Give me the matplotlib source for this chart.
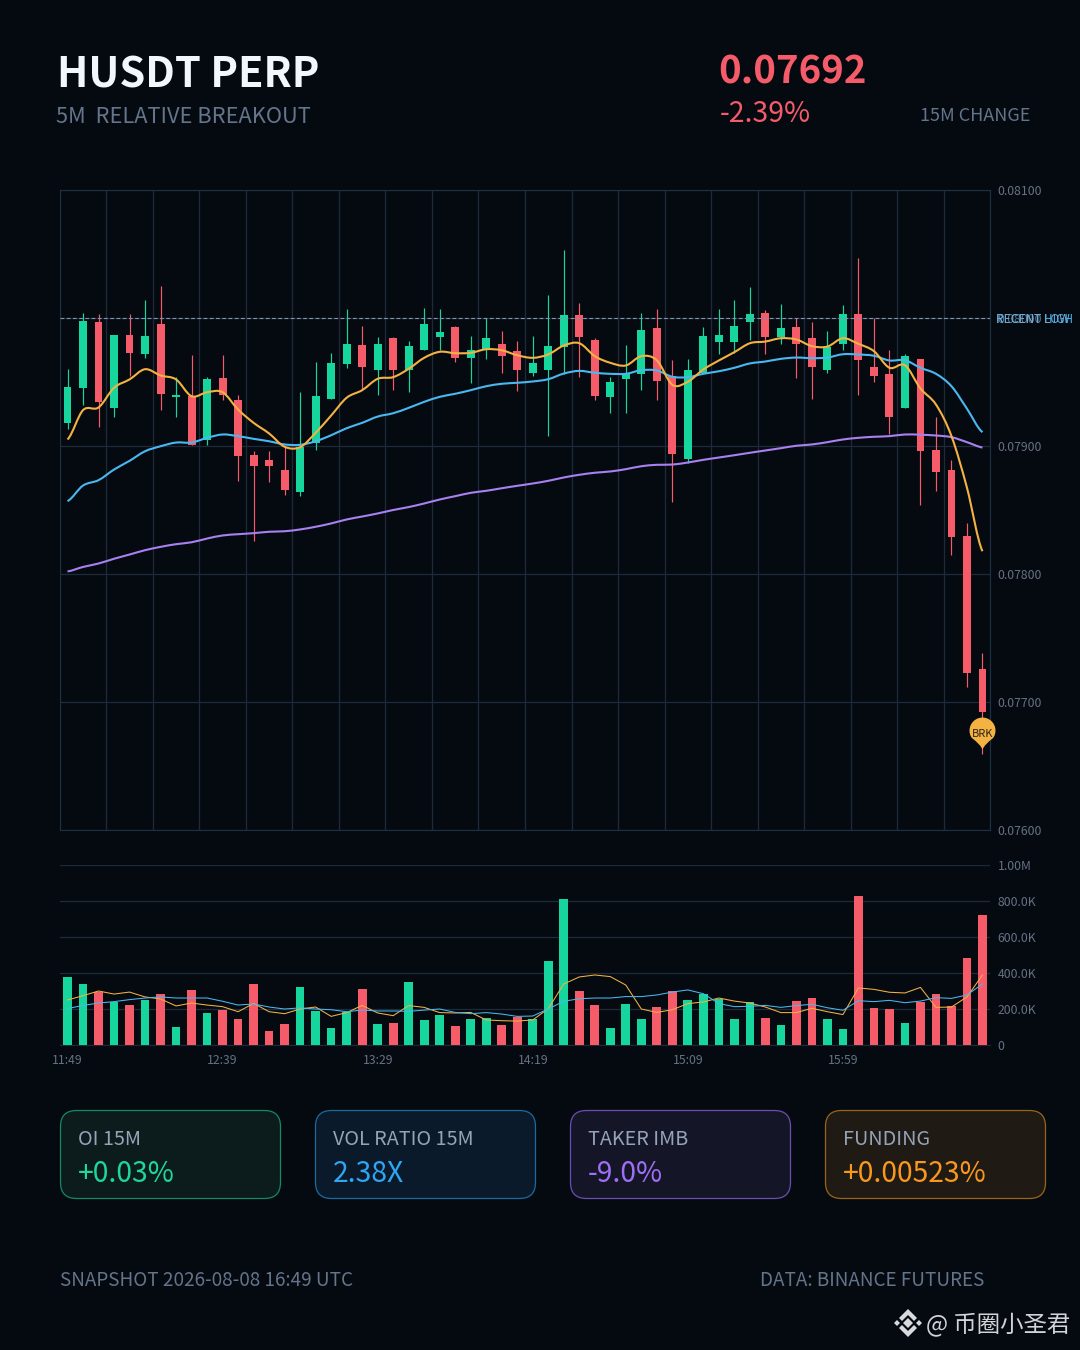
"""Rebuild of the HUSDT 5m breakout card: candles, moving averages, volume, stat cards."""

import matplotlib
matplotlib.use("Agg")
import matplotlib.pyplot as plt
import numpy as np
from matplotlib.patches import FancyBboxPatch, PathPatch, Polygon
from matplotlib.path import Path
from matplotlib.transforms import Affine2D

plt.rcParams["font.family"] = ["Noto Sans CJK SC", "DejaVu Sans"]

W, H = 1080, 1350

# prices are listed in units of 0.00001
OPEN = [7918, 7945, 7997, 7930, 7987, 7972, 7995, 7938, 7939, 7905,
        7953, 7936, 7893, 7889, 7881, 7864, 7902, 7937, 7964, 7979,
        7959, 7984, 7959, 7975, 7985, 7993, 7969, 7975, 7980, 7974,
        7957, 7959, 7977, 8002, 7983, 7938, 7952, 7956, 7992, 7955,
        7890, 7957, 7981, 7981, 7997, 8004, 7985, 7993, 7984, 7959,
        7980, 8003, 7962, 7956, 7930, 7968, 7897, 7881, 7830, 7726]
HIGH = [7960, 8004, 8003, 7987, 8003, 8014, 8025, 7954, 7971, 7954,
        7971, 7940, 7896, 7896, 7899, 7942, 7966, 7973, 8007, 7994,
        7985, 7985, 7982, 8008, 8007, 7994, 7986, 8000, 7990, 7982,
        7986, 8018, 8053, 8012, 7984, 7954, 7979, 8004, 8007, 7967,
        7968, 7993, 8007, 8014, 8024, 8006, 8011, 8000, 7997, 7990,
        8010, 8047, 8000, 7975, 7972, 7968, 7923, 7889, 7840, 7738]
LOW = [7913, 7932, 7915, 7923, 7955, 7969, 7928, 7923, 7901, 7901,
       7936, 7873, 7826, 7872, 7862, 7861, 7897, 7937, 7961, 7944,
       7940, 7944, 7942, 7975, 7975, 7966, 7949, 7968, 7957, 7943,
       7955, 7908, 7956, 7954, 7936, 7926, 7926, 7944, 7936, 7856,
       7887, 7957, 7972, 7973, 7983, 7972, 7980, 7953, 7937, 7957,
       7975, 7940, 7950, 7909, 7930, 7854, 7865, 7815, 7712, 7659]
CLOSE = [7946, 7998, 7934, 7987, 7973, 7986, 7941, 7940, 7901, 7952,
         7940, 7892, 7884, 7884, 7866, 7899, 7939, 7965, 7980, 7962,
         7980, 7959, 7978, 7995, 7989, 7969, 7975, 7984, 7970, 7959,
         7965, 7978, 8002, 7985, 7939, 7950, 7956, 7991, 7951, 7894,
         7959, 7986, 7987, 7994, 8003, 7985, 7992, 7980, 7962, 7977,
         8003, 7967, 7955, 7923, 7970, 7896, 7880, 7829, 7723, 7692]

MA_FAST = [7905.1, 7928.0, 7930.1, 7945.5, 7952.0, 7960.0, 7955.1, 7952.0, 7938.9, 7942.0,
           7942.0, 7928.5, 7918.1, 7909.8, 7899.4, 7899.1, 7910.3, 7923.8, 7937.7, 7943.6,
           7952.5, 7953.8, 7960.3, 7968.9, 7973.6, 7972.5, 7972.8, 7975.6, 7974.8, 7970.9,
           7968.9, 7971.5, 7978.5, 7980.3, 7970.2, 7965.0, 7962.9, 7970.2, 7967.0, 7947.8,
           7950.2, 7959.8, 7966.8, 7973.3, 7980.3, 7981.6, 7984.2, 7983.2, 7978.0, 7977.7,
           7984.2, 7979.8, 7974.1, 7961.1, 7963.1, 7944.9, 7932.4, 7907.7, 7867.3, 7817.8]
MA_MID = [7856.9, 7869.1, 7873.3, 7881.6, 7888.4, 7895.9, 7899.8, 7902.7, 7902.7, 7906.4,
          7909.0, 7907.7, 7905.6, 7903.7, 7901.2, 7900.9, 7903.7, 7908.4, 7913.9, 7918.1,
          7923.0, 7925.6, 7929.8, 7934.5, 7938.4, 7940.8, 7943.6, 7946.7, 7948.6, 7949.4,
          7950.4, 7952.2, 7956.6, 7958.7, 7957.2, 7956.4, 7956.4, 7959.2, 7959.0, 7954.1,
          7953.8, 7956.4, 7958.4, 7961.1, 7964.5, 7966.0, 7968.1, 7969.1, 7968.6, 7969.1,
          7971.7, 7971.5, 7970.5, 7966.8, 7967.0, 7961.1, 7956.4, 7946.7, 7929.1, 7910.8]
MA_SLOW = [7802.0, 7805.5, 7808.2, 7811.9, 7815.2, 7818.6, 7821.2, 7823.3, 7824.8, 7827.7,
           7830.1, 7831.1, 7831.9, 7833.0, 7833.4, 7834.8, 7836.9, 7839.5, 7842.6, 7844.9,
           7847.3, 7850.0, 7852.3, 7855.1, 7858.2, 7860.8, 7863.4, 7865.0, 7867.0, 7868.9,
           7870.7, 7872.8, 7875.4, 7877.5, 7879.1, 7880.1, 7881.9, 7884.2, 7885.3, 7885.5,
           7887.1, 7889.2, 7891.0, 7892.8, 7894.7, 7896.5, 7898.3, 7900.2, 7901.2, 7903.0,
           7905.1, 7906.4, 7907.2, 7907.7, 7909.0, 7908.8, 7908.2, 7906.9, 7903.0, 7898.8]

# volume in thousands
VOLUME = [376, 341, 294, 239, 222, 252, 283, 102, 307, 178,
          194, 144, 337, 80, 119, 320, 187, 94, 181, 313,
          117, 120, 352, 139, 169, 106, 146, 150, 111, 154,
          144, 465, 813, 302, 222, 93, 230, 146, 213, 302,
          250, 281, 256, 144, 237, 152, 113, 244, 261, 146,
          87, 830, 206, 198, 124, 237, 283, 215, 485, 720]
VOL_FAST = [250, 274, 300, 283, 294, 267, 256, 217, 233, 222,
            213, 185, 231, 185, 174, 200, 211, 159, 180, 220,
            178, 163, 219, 209, 180, 178, 181, 139, 135, 133,
            139, 202, 339, 378, 389, 380, 333, 200, 181, 196,
            230, 239, 261, 244, 233, 211, 180, 180, 204, 185,
            169, 317, 309, 293, 289, 320, 209, 211, 267, 389]
VOL_SLOW = [202, 220, 233, 241, 252, 261, 267, 261, 261, 261,
            243, 222, 228, 211, 200, 206, 200, 196, 185, 194,
            189, 189, 187, 194, 200, 181, 174, 180, 172, 159,
            161, 200, 243, 257, 261, 261, 269, 269, 278, 294,
            306, 285, 230, 213, 215, 220, 209, 219, 226, 207,
            193, 246, 241, 248, 235, 244, 263, 259, 278, 339]

PRICE_TICKS = [0.076, 0.077, 0.078, 0.079, 0.080, 0.081]
VOL_TICKS = [0, 200, 400, 600, 800, 1000]
VOL_TICK_LABELS = ["0", "200.0K", "400.0K", "600.0K", "800.0K", "1.00M"]
TIME_POS = [0, 10, 20, 30, 40, 50]
TIME_LABELS = ["11:49", "12:39", "13:29", "14:19", "15:09", "15:59"]
RECENT_LEVEL = 0.08
BRK_PRICE = 0.07663

CARD_LABELS = ["OI 15M", "VOL RATIO 15M", "TAKER IMB", "FUNDING"]
CARD_VALUES = ["+0.03%", "2.38X", "-9.0%", "+0.00523%"]
CARD_X = [60, 315, 570, 825]
CARD_FILL = ["#0c1c1d", "#0a1a2a", "#151528", "#201a14"]
CARD_EDGE = ["#128a62", "#1d6aa0", "#6a4fb0", "#9a6518"]
CARD_TEXT = ["#1ed79a", "#2ea6f5", "#9f6ff5", "#f9981e"]

BG = "#050a11"
GRID = "#1e2a3a"
FRAME = "#1f3044"
GREEN = "#16d69e"
RED = "#f65b6a"
ORANGE = "#f4b242"
CYAN = "#4ab8f0"
PURPLE = "#a880f0"
MUTED = "#64748b"
TICK = "#667183"


def smooth_path(ys):
    # bezier through every value, so the averages are not drawn as kinked polylines
    ys = np.asarray(ys)
    xs = np.arange(len(ys), dtype=float)
    verts = [(xs[0], ys[0])]
    codes = [Path.MOVETO]
    for i in range(len(ys) - 1):
        y_prev = ys[max(i - 1, 0)]
        y_next = ys[min(i + 2, len(ys) - 1)]
        verts += [(xs[i] + 1 / 3, ys[i] + (ys[i + 1] - y_prev) / 6),
                  (xs[i + 1] - 1 / 3, ys[i + 1] - (y_next - ys[i]) / 6),
                  (xs[i + 1], ys[i + 1])]
        codes += [Path.CURVE4] * 3
    return Path(verts, codes)


def pin_marker():
    # teardrop with its tip at the origin, circle of radius 13 centred 19 above it
    verts = [
        (0, 0),
        (-2, 5), (-10.5, 11.4),
        (-12.2, 13.4), (-13, 16.2), (-13, 19),
        (-13, 26.2), (-7.2, 32), (0, 32),
        (7.2, 32), (13, 26.2), (13, 19),
        (13, 16.2), (12.2, 13.4), (10.5, 11.4),
        (2, 5), (0, 0),
        (0, 0),
    ]
    codes = ([Path.MOVETO] + [Path.CURVE3] * 2 + [Path.CURVE4] * 12
             + [Path.CURVE3] * 2 + [Path.CLOSEPOLY])
    return Path(verts, codes)


fig = plt.figure(figsize=(W / 100, H / 100), dpi=100)
fig.patch.set_facecolor(BG)
PX = Affine2D().scale(1 / W, -1 / H).translate(0, 1) + fig.transFigure


def label(x, y, text, size, color, weight="normal", ha="left"):
    return fig.text(x, y, text, transform=PX, fontsize=size * 0.72, color=color,
                    fontweight=weight, ha=ha, va="baseline")


# ---- header
label(57, 87, "HUSDT PERP", 41.6, "#f2f6fd", weight="bold")
label(56, 123, "5M  RELATIVE BREAKOUT", 21.8, MUTED)
label(718, 84, "0.07692", 38.4, RED, weight="bold")
label(720, 122, "-2.39%", 28.4, RED)
label(920.5, 121, "15M CHANGE", 18, MUTED)

# ---- price panel
x = np.arange(len(OPEN))
o = np.array(OPEN) / 1e5
h = np.array(HIGH) / 1e5
l = np.array(LOW) / 1e5
c = np.array(CLOSE) / 1e5
colours = [GREEN if ci >= oi else RED for oi, ci in zip(o, c)]

ax = fig.add_axes([59.75 / W, 1 - 830 / H, 930.5 / W, 640 / H])
ax.set_facecolor(BG)
ax.set_axisbelow(True)
ax.grid(True, color=GRID, linewidth=0.9)
ax.vlines(x, l, h, colors=colours, linewidth=0.85, zorder=2)
ax.bar(x, np.maximum(np.abs(c - o), 0.00001), bottom=np.minimum(o, c), width=0.51,
       color=colours, linewidth=0, zorder=3)
ax.axhline(RECENT_LEVEL, color="#8494ad", linestyle=(0, (3.4, 2.2)), linewidth=0.8, zorder=4)
for values, colour in ((MA_SLOW, PURPLE), (MA_MID, CYAN), (MA_FAST, ORANGE)):
    ax.add_patch(PathPatch(smooth_path(np.array(values) / 1e5), facecolor="none",
                           edgecolor=colour, linewidth=1.5, transform=ax.transData, zorder=5))
ax.set_xlim(-0.5, 59.5)
ax.set_ylim(PRICE_TICKS[0], PRICE_TICKS[-1])
ax.set_xticks(np.arange(-0.5, 60, 3))
ax.set_xticklabels([])
ax.yaxis.tick_right()
ax.set_yticks(PRICE_TICKS)
ax.set_yticklabels([f"{t:.5f}" for t in PRICE_TICKS])
ax.tick_params(length=0, labelsize=8.8, labelcolor=TICK, pad=5.2)
for spine in ax.spines.values():
    spine.set_color(FRAME)
    spine.set_linewidth(0.8)

# path markers are scaled to half the marker size at their widest extent
ax.plot([x[-1]], [BRK_PRICE], marker=pin_marker(), markersize=46, color=ORANGE,
        markeredgewidth=0, linestyle="none", zorder=7, clip_on=False)
label(982.5, 737, "BRK", 11, "#2a2418", ha="center").set_zorder(8)

# overlapped level tags sit right on the 0.08000 tick
label(995.5, 323, "RECENT HIGH", 11.9, "#3fb0ee")
label(995.5, 323, "RECENT LOW", 11.9, "#6fa8cf")

# ---- volume panel
axv = fig.add_axes([59.75 / W, 1 - 1045 / H, 930.5 / W, 180 / H])
axv.set_facecolor(BG)
axv.set_axisbelow(True)
axv.grid(True, axis="y", color=GRID, linewidth=0.9)
axv.bar(x, VOLUME, width=0.56, color=colours, linewidth=0, zorder=3)
axv.plot(x, VOL_FAST, color=ORANGE, linewidth=0.75, zorder=4)
axv.plot(x, VOL_SLOW, color=CYAN, linewidth=0.75, zorder=4)
axv.set_xlim(-0.5, 59.5)
axv.set_ylim(0, 1000)
axv.yaxis.tick_right()
axv.set_yticks(VOL_TICKS)
axv.set_yticklabels(VOL_TICK_LABELS)
axv.set_xticks(TIME_POS)
axv.set_xticklabels(TIME_LABELS)
axv.tick_params(axis="y", length=0, labelsize=8.8, labelcolor=TICK, pad=5.2)
axv.tick_params(axis="x", length=0, labelsize=8.8, labelcolor=TICK, pad=6.4)
for name, spine in axv.spines.items():
    spine.set_visible(name == "bottom")
    spine.set_color(GRID)

# ---- stat cards
for cx, name, value, fill, edge, text_col in zip(CARD_X, CARD_LABELS, CARD_VALUES,
                                                 CARD_FILL, CARD_EDGE, CARD_TEXT):
    fig.add_artist(FancyBboxPatch((cx + 0.5, 1110.5), 220, 88, boxstyle="round,pad=0,rounding_size=16",
                                  facecolor=fill, edgecolor=edge, linewidth=0.9, transform=PX))
    label(cx + 18, 1145, name, 19.8, "#94a3b8")
    label(cx + 18, 1182, value, 28.3, text_col)

# ---- footer
label(60, 1286, "SNAPSHOT 2026-08-08 16:49 UTC", 18.9, MUTED)
label(760, 1286, "DATA: BINANCE FUTURES", 18.9, MUTED)

# watermark: exchange logo and handle
LOGO = "#d8dadd"
for pts in (
    [(908, 1318), (913, 1323), (908, 1328), (903, 1323)],
    [(894, 1323), (897, 1320), (900, 1323), (897, 1326)],
    [(916, 1323), (919, 1320), (922, 1323), (919, 1326)],
    [(908, 1309), (917, 1318), (914, 1321), (908, 1315), (902, 1321), (899, 1318)],
    [(908, 1337), (917, 1328), (914, 1325), (908, 1331), (902, 1325), (899, 1328)],
):
    fig.add_artist(Polygon(pts, closed=True, facecolor=LOGO, edgecolor="none", transform=PX))
label(926, 1332, "@ 币圈小圣君", 23.4, "#d2d4d8")

fig.savefig("out.png", dpi=100, facecolor=fig.get_facecolor())
